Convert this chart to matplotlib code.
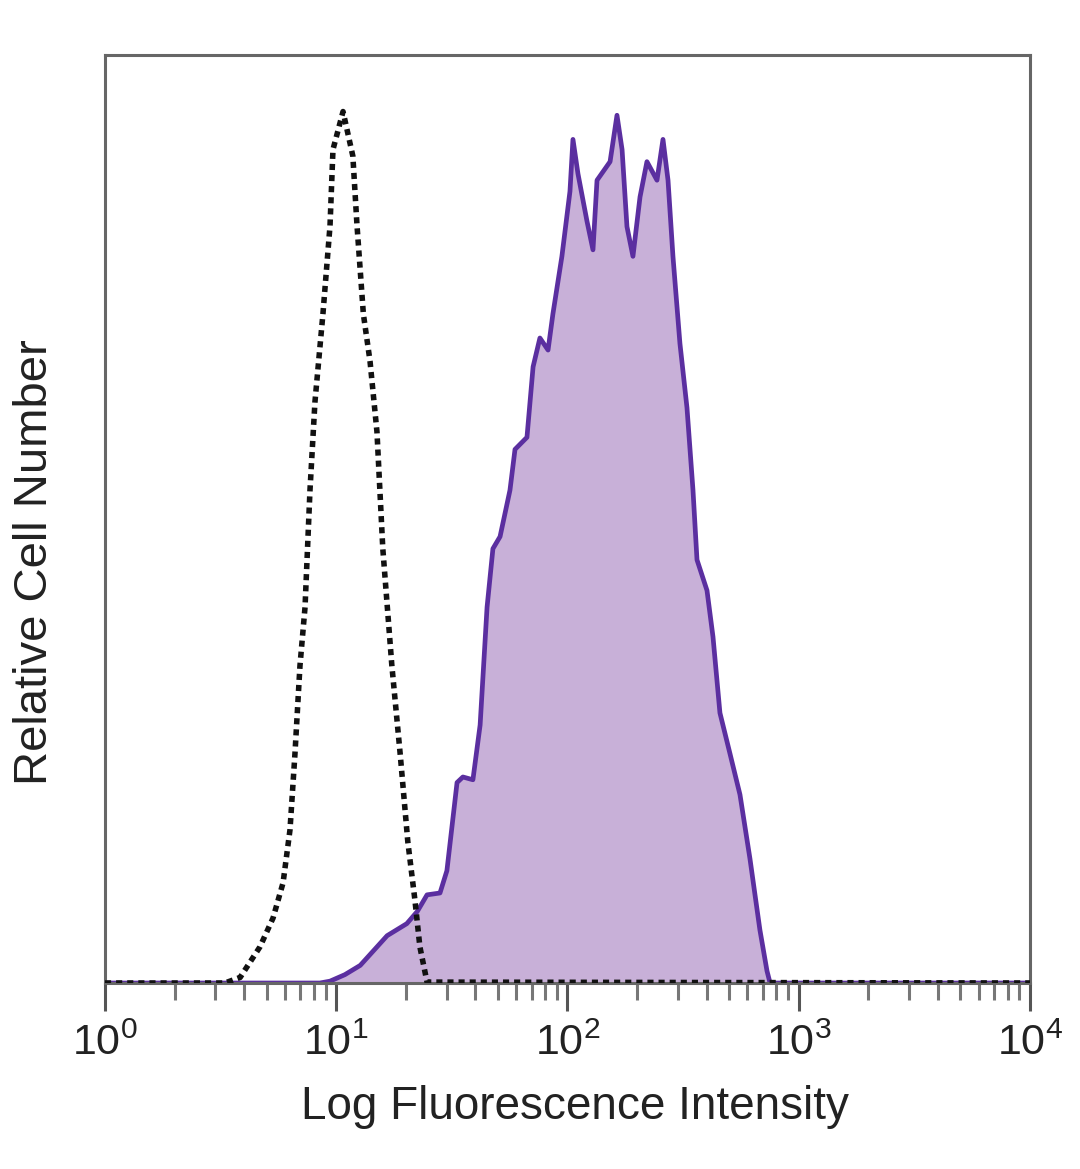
import numpy as np
import matplotlib
matplotlib.use('Agg')
import matplotlib.pyplot as plt
from matplotlib.ticker import LogLocator, NullFormatter

# Isotype control (dashed) - intensity and relative count
iso_x = [1, 3.30, 3.84, 4.68, 5.33, 5.89, 6.31, 6.63, 6.97, 7.33, 7.70, 8.09, 8.76,
         9.40, 9.68, 10.7, 11.8, 12.3, 13.1, 14.0, 15.0, 15.9, 17.4, 18.9, 20.4,
         21.9, 23.0, 24.7, 10000]
iso_y = [0, 0, 0.6, 3.9, 7.0, 10.8, 16.5, 24.7, 34.2, 40.5, 53.1, 62.6, 72.1,
         81.6, 89.8, 93.9, 89.1, 81.6, 72.1, 67.0, 59.4, 46.8, 34.2, 24.7, 15.2,
         8.9, 3.9, 0.1, 0]

# Stained sample (filled purple)
stain_x = [1, 8.5, 9.40, 10.9, 12.7, 16.6, 20.2, 22.4, 24.7, 28.1, 30.1, 33.3, 35.3,
           39.0, 41.9, 44.9, 47.6, 51.1, 56.4, 59.3, 66.8, 71.0, 76.0, 82.4, 86.5,
           94.6, 102.5, 105.6, 111.0, 121.4, 128.9, 134.2, 152.8, 163.7, 172.2,
           180.8, 191.9, 205.9, 220.6, 243.8, 258.8, 272.1, 285.8, 306.4, 328.6,
           348.9, 363.1, 401.1, 425.8, 456.3, 504.4, 557.0, 615.2, 679.5, 729.0,
           751.6, 10000]
stain_y = [0, 0, 0.2, 0.9, 1.9, 5.1, 6.4, 7.7, 9.5, 9.7, 12.1, 21.6, 22.2,
           21.9, 27.8, 40.5, 46.8, 48.1, 53.1, 57.5, 58.8, 66.4, 69.5, 68.2, 72.1,
           78.3, 85.3, 90.9, 87.2, 82.1, 79.0, 86.5, 88.5, 93.5, 89.8,
           81.5, 78.3, 84.7, 88.5, 86.5, 90.9, 86.5, 78.3, 68.9, 62.0,
           53.1, 45.6, 42.3, 37.3, 29.1, 24.7, 20.3, 13.4, 5.7, 1.3,
           0, 0]

tick_vals = [1, 10, 100, 1000, 10000]
tick_labels = [r'$\mathregular{10^{0}}$', r'$\mathregular{10^{1}}$', r'$\mathregular{10^{2}}$',
               r'$\mathregular{10^{3}}$', r'$\mathregular{10^{4}}$']

plt.rcParams['font.family'] = ['Liberation Sans', 'DejaVu Sans']
plt.rcParams['mathtext.fontset'] = 'custom'
plt.rcParams['mathtext.rm'] = 'Liberation Sans'

fig = plt.figure(figsize=(10.8, 11.69), dpi=100)
ax = fig.add_axes([0.0972, 0.1591, 0.8565, 0.7939])

ax.fill_between(stain_x, 0, stain_y, color='#c8b0d8', lw=0, zorder=1)
ax.plot(stain_x, stain_y, color='#5b2fa0', lw=3.4, zorder=2)
ax.plot(iso_x, iso_y, color='#111111', lw=4.0, linestyle=(0, (1.1, 0.9)), zorder=3)

ax.set_xscale('log')
ax.set_xlim(1, 10000)
ax.set_ylim(0, 100)

ax.set_xticks(tick_vals)
ax.set_xticklabels(tick_labels)
ax.xaxis.set_minor_locator(LogLocator(base=10, subs=np.arange(2, 10), numticks=20))
ax.xaxis.set_minor_formatter(NullFormatter())
ax.tick_params(axis='x', which='major', direction='out', length=20, width=2.2,
               colors='#555555', labelcolor='#222222', labelsize=31, pad=9)
ax.tick_params(axis='x', which='minor', direction='out', length=12, width=2.2, colors='#777777')
ax.set_yticks([])

for s in ax.spines.values():
    s.set_color('#666666')
    s.set_linewidth(2.2)

ax.set_xlabel('Log Fluorescence Intensity', fontsize=33, color='#222222')
ax.xaxis.set_label_coords(0.508, -0.110)
ax.set_ylabel('Relative Cell Number', fontsize=34, color='#222222')
ax.yaxis.set_label_coords(-0.052, 0.454)

fig.savefig('out.png', dpi=100)
